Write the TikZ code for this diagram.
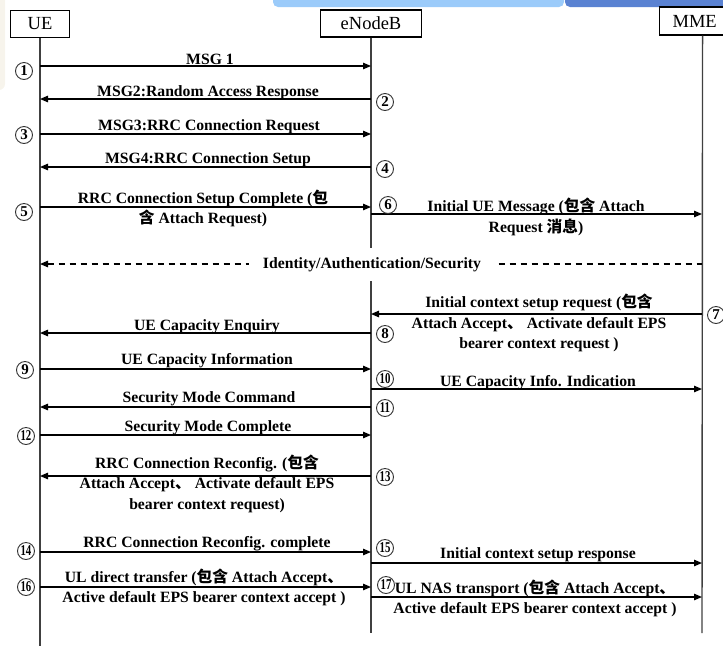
\documentclass[tikz,border=0pt]{standalone}
\usepackage{graphicx}
\usepackage{fontspec}
\setmainfont{Liberation Serif}
\newfontfamily\cjk{Noto Sans CJK SC}
\newcommand{\zh}[1]{{\cjk #1}}
\usetikzlibrary{arrows.meta}

\definecolor{barlight}{HTML}{9BCBFA}
\definecolor{bardark}{HTML}{5A82D2}
\definecolor{panel}{HTML}{F7F4EC}

\begin{document}
\begin{tikzpicture}[
  x=1pt, y=-1pt,
  actor/.style={draw, line width=1.1pt, minimum height=27pt, inner xsep=6pt,
    font=\fontsize{18.5}{22}\selectfont},
  lifeline/.style={draw=black!75, line width=1.4pt},
  msg/.style={-{Triangle[length=8pt,width=6.5pt]}, line width=1.2pt},
  num/.style={circle, draw=black!80, line width=0.9pt, minimum size=17pt,
    inner sep=0pt, font=\fontsize{15}{15}\selectfont\bfseries},
  lbl/.style={anchor=base, align=center, inner sep=0pt,
    font=\fontsize{15.7}{20.5}\selectfont\bfseries}
]
  \useasboundingbox (0,0) rectangle (723,649);
  \clip (0,0) rectangle (723,649);
  % background bars
  \fill[panel, rounded corners=6pt] (-10,-10) rectangle (5,90);
  \fill[barlight, rounded corners=5pt] (273,-10) rectangle (564,7);
  \fill[bardark, rounded corners=5pt] (565,-10) rectangle (740,7);
  % actors
  \node[actor, minimum width=59pt] (ue) at (40,24) {UE};
  \node[actor, minimum width=101pt] (enb) at (371,23.5) {eNodeB};
  \node[actor, anchor=west, text width=60pt, align=left, inner xsep=13pt,
    minimum height=28pt] (mme) at (659,21) {MME};
  % lifelines
  \coordinate (ue-end) at (40,646);
  \coordinate (enb-end) at (371,633);
  \coordinate (mme-end) at (702,633);
  \draw[lifeline] (ue.south) -- (ue-end);
  \draw[lifeline] (enb.south) -- (enb-end);
  \draw[lifeline] (mme.south) -- (mme-end);
  % message levels
  \foreach \n/\y in {1/66, 2/99, 3/134, 4/167, 5/207, 6/214, 7/264, 8/314,
      9/333, 10/369, 11/389, 12/407, 13/435, 14/476, 15/552, 16/563,
      17/587, 18/597} {
    \coordinate (u\n) at (40,\y);
    \coordinate (e\n) at (371,\y);
    \coordinate (m\n) at (702,\y);
  }
  % messages
  \foreach \a/\b in {u1/e1, e2/u2, u3/e3, e4/u4, u5/e5, e6/m6, m8/e8,
      e9/u9, u10/e10, e11/m11, e12/u12, u13/e13, e14/u14, u15/e15,
      e16/m16, u17/e17, e18/m18} {
    \draw[msg] (\a) -- (\b);
  }
  \draw[msg, {Triangle[length=8pt,width=6.5pt]}-, dash pattern=on 6pt off 5pt]
    (u7) -- (m7);
  \node[lbl, anchor=center, fill=white, inner xsep=14pt, inner ysep=9pt]
    (l7) at (372,264.5) {Identity/Authentication/Security};
  % step numbers
  \foreach \k/\x/\y in {1/24/71, 2/385/102, 3/24/135, 4/385/169, 5/24/212,
      6/388/205, 7/716/315, 8/385/334, 9/25/370, 10/385/379, 11/385/408,
      12/26/436, 13/385/477, 14/26/551, 15/385/548, 16/26/587, 17/386/585} {
    \node[num] (n\k) at (\x,\y)
      {\ifnum\k>9 \scalebox{0.72}[1]{\k}\else\k\fi};
  }
  % labels (multi-line ones sit on their last line)
  \node[lbl] (l1) at (210,64) {MSG 1};
  \node[lbl] (l2) at (208,96) {MSG2:Random Access Response};
  \node[lbl] (l3) at (209,130) {MSG3:RRC Connection Request};
  \node[lbl] (l4) at (208,163) {MSG4:RRC Connection Setup};
  \node[lbl] (l5) at (203,223.5)
    {RRC Connection Setup Complete (\zh{包}\\\zh{含} Attach Request)};
  \node[lbl] (l6) at (536,232)
    {Initial UE Message (\zh{包含} Attach\\Request \zh{消息})};
  \node[lbl] (l8) at (539,348.5)
    {Initial context setup request (\zh{包含}\\Attach Accept\zh{、} Activate default EPS\\bearer context request )};
  \node[lbl] (l9) at (207,330) {UE Capacity Enquiry};
  \node[lbl] (l10) at (207,364) {UE Capacity Information};
  \node[lbl] (l11) at (538,386) {UE Capacity Info. Indication};
  \node[lbl] (l12) at (209,402) {Security Mode Command};
  \node[lbl] (l13) at (208,431) {Security Mode Complete};
  \node[lbl] (l14) at (207,509)
    {RRC Connection Reconfig. (\zh{包含}\\Attach Accept\zh{、} Activate default EPS\\bearer context request)};
  \node[lbl] (l15) at (207,547) {RRC Connection Reconfig. complete};
  \node[lbl] (l16) at (538,558) {Initial context setup response};
  \node[lbl] (l17) at (204,602.5)
    {UL direct transfer (\zh{包含} Attach Accept\zh{、}\\Active default EPS bearer context accept )};
  \node[lbl] (l18) at (535,613.5)
    {UL NAS transport (\zh{包含} Attach Accept\zh{、}\\Active default EPS bearer context accept )};
\end{tikzpicture}
\end{document}
